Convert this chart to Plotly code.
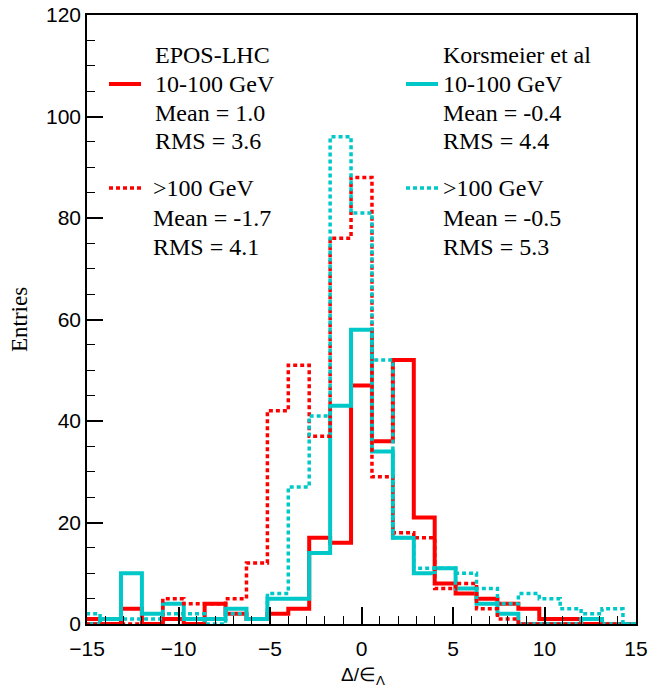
import plotly.graph_objects as go

# ---------------- data ----------------
BIN_WIDTH = 8.0 / 7.0                     # histogram bin width
bin_index = list(range(-13, 14))          # bin centres = index * BIN_WIDTH

epos_low = [1, 0, 3, 0, 1, 0, 4, 2, 1, 2, 3, 17, 16, 47, 36, 52, 21, 8, 6, 5, 4, 3, 1, 1, 0, 0, 0]
epos_high = [0, 0, 0, 0, 5, 4, 4, 5, 12, 42, 51, 37, 76, 88, 29, 18, 17, 7, 8, 3, 1, 0, 0, 0, 0, 0, 0]
kors_low = [0, 1, 10, 2, 4, 1, 1, 3, 1, 5, 5, 14, 43, 58, 34, 17, 10, 11, 7, 4, 2, 0, 0, 0, 1, 0, 0]
kors_high = [2, 1, 1, 1, 2, 2, 0, 2, 1, 6, 27, 41, 96, 81, 52, 17, 11, 11, 10, 7, 4, 6, 5, 3, 2, 3, 0]

x_ticks = [-15, -10, -5, 0, 5, 10, 15]
y_ticks = [0, 20, 40, 60, 80, 100, 120]

left_header = "EPOS-LHC"
left_low_text = ["10-100 GeV", "Mean = 1.0", "RMS = 3.6"]
left_high_text = [">100 GeV", "Mean = -1.7", "RMS = 4.1"]
right_header = "Korsmeier et al"
right_low_text = ["10-100 GeV", "Mean = -0.4", "RMS = 4.4"]
right_high_text = [">100 GeV", "Mean = -0.5", "RMS = 5.3"]

RED = "#ff0000"
CYAN = "#00c8c8"

edges = [(k - 0.5) * BIN_WIDTH for k in bin_index] + [(bin_index[-1] + 0.5) * BIN_WIDTH]


def step_trace(values, color, dash):
    return go.Scatter(
        x=edges,
        y=list(values) + [values[-1]],
        mode="lines",
        line=dict(shape="hv", color=color, width=4 if dash == "solid" else 3.5, dash=dash),
        hoverinfo="skip",
        showlegend=False,
    )


fig = go.Figure()
fig.add_trace(step_trace(epos_low, RED, "solid"))
fig.add_trace(step_trace(kors_low, CYAN, "solid"))
fig.add_trace(step_trace(epos_high, RED, "4px,3px"))
fig.add_trace(step_trace(kors_high, CYAN, "4px,3px"))

# plot area in pixels: x 87..636, y 15..624
L, R, T, B = 87, 636, 15, 624


def px(x):
    return (x - L) / (R - L)


def py(y):
    return (B - y) / (B - T)


SERIF = "Liberation Serif"
annotations = []
shapes = []


def add_text(x, y, txt):
    annotations.append(dict(
        x=px(x), y=py(y), xref="paper", yref="paper", text=txt, showarrow=False,
        xanchor="left", yanchor="middle", font=dict(family=SERIF, size=24, color="black"),
    ))


rows_low = [84, 113, 141]
rows_high = [188, 218, 247]

add_text(153, 55, left_header)
for t, y in zip(left_low_text, rows_low):
    add_text(153, y, t)
for t, y in zip(left_high_text, rows_high):
    add_text(151, y, t)

add_text(441, 55, right_header)
for t, y in zip(right_low_text, rows_low):
    add_text(441, y, t)
for t, y in zip(right_high_text, rows_high):
    add_text(441, y, t)


def add_sample(x0, x1, y, color, dash):
    shapes.append(dict(
        type="line", xref="paper", yref="paper", x0=px(x0), x1=px(x1), y0=py(y), y1=py(y),
        line=dict(color=color, width=4 if dash == "solid" else 3.5, dash=dash),
    ))


add_sample(109, 141, rows_low[0], RED, "solid")
add_sample(109, 141, rows_high[0], RED, "4px,3px")
add_sample(406, 438, rows_low[0], CYAN, "solid")
add_sample(406, 438, rows_high[0], CYAN, "4px,3px")

# axis titles
annotations.append(dict(
    x=px(363), y=py(676), xref="paper", yref="paper", showarrow=False,
    text="Δ/∈<sub>Λ</sub>", xanchor="center", yanchor="middle",
    font=dict(family="Liberation Sans", size=19, color="black"),
))
annotations.append(dict(
    x=px(20), y=py(320), xref="paper", yref="paper", showarrow=False,
    text="Entries", textangle=-90, xanchor="center", yanchor="middle",
    font=dict(family=SERIF, size=23, color="black"),
))

fig.update_layout(
    width=658, height=688,
    margin=dict(l=L, r=658 - R, t=T, b=688 - B),
    plot_bgcolor="white", paper_bgcolor="white",
    showlegend=False,
    annotations=annotations, shapes=shapes,
)
fig.update_xaxes(
    range=[-15, 15], tickvals=x_ticks, ticks="inside", ticklen=17, tickwidth=1.5, tickcolor="black",
    showline=True, linecolor="black", linewidth=1.5, mirror=True, showgrid=False, zeroline=False,
    minor=dict(dtick=1, ticks="inside", ticklen=8, tickwidth=1, tickcolor="black"),
    tickfont=dict(family="Liberation Sans", size=21, color="black"),
    automargin=False, ticklabelstandoff=5,
)
fig.update_yaxes(
    range=[0, 120], tickvals=y_ticks, ticks="inside", ticklen=16, tickwidth=1.5, tickcolor="black",
    showline=True, linecolor="black", linewidth=1.5, mirror=True, showgrid=False, zeroline=False,
    minor=dict(dtick=5, ticks="inside", ticklen=8, tickwidth=1, tickcolor="black"),
    tickfont=dict(family="Liberation Sans", size=21, color="black"),
    automargin=False,
)

fig.write_html("out.html")
